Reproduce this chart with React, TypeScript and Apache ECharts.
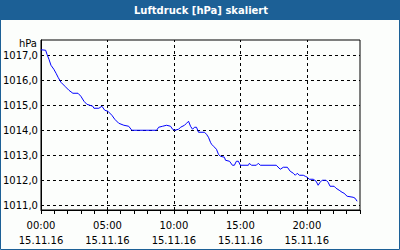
import React, { useEffect, useRef } from "react";
import * as echarts from "echarts";

const titleText = "Luftdruck [hPa] skaliert";
const unitText = "hPa";
const dateText = "15.11.16";

// minutes since 00:00
const times = [
  0, 21, 27, 36, 45, 58, 68, 77, 90, 108, 126, 144, 167, 180, 194, 207, 234, 239, 261, 275,
  288, 302, 320, 333, 351, 374, 396, 410, 522, 531, 549, 567, 585, 594, 603, 621, 630, 648,
  657, 666, 675, 684, 693, 702, 711, 738, 747, 756, 765, 770, 779, 792, 801, 810, 828, 833,
  851, 864, 873, 882, 891, 900, 936, 941, 950, 972, 981, 990, 1062, 1080, 1094, 1112, 1125,
  1139, 1148, 1157, 1166, 1184, 1193, 1202, 1211, 1229, 1242, 1251, 1260, 1269, 1287, 1296,
  1305, 1323, 1332, 1346, 1359, 1368, 1382, 1409, 1418, 1427,
];
const pressure = [
  1017.22, 1017.2, 1017.04, 1016.84, 1016.6, 1016.44, 1016.28, 1016.12, 1015.92, 1015.76,
  1015.6, 1015.48, 1015.48, 1015.36, 1015.16, 1015.04, 1014.96, 1014.88, 1014.88, 1014.96,
  1014.8, 1014.76, 1014.6, 1014.44, 1014.28, 1014.2, 1014.16, 1014.0, 1014.0, 1014.12,
  1014.16, 1014.2, 1014.16, 1014.04, 1014.0, 1014.04, 1014.12, 1014.2, 1014.28, 1014.36,
  1014.16, 1014.04, 1014.12, 1014.12, 1013.92, 1013.92, 1013.84, 1013.72, 1013.52, 1013.44,
  1013.36, 1013.24, 1013.04, 1012.96, 1012.92, 1012.8, 1012.76, 1012.6, 1012.6, 1012.76,
  1012.76, 1012.6, 1012.6, 1012.68, 1012.6, 1012.6, 1012.68, 1012.6, 1012.6, 1012.44,
  1012.52, 1012.52, 1012.36, 1012.28, 1012.2, 1012.28, 1012.2, 1012.2, 1012.16, 1012.12,
  1012.04, 1012.04, 1011.96, 1011.8, 1011.92, 1012.0, 1012.0, 1011.92, 1011.76, 1011.76,
  1011.68, 1011.6, 1011.52, 1011.48, 1011.36, 1011.32, 1011.28, 1011.16,
];

const xMajorTicks = [0, 300, 600, 900, 1200];
const xMinorTicks = [
  0, 60, 120, 180, 240, 300, 360, 420, 480, 540, 600, 660, 720, 780, 840, 900, 960, 1020,
  1080, 1140, 1200, 1260, 1320, 1380, 1440,
];
const yTicks = [1011, 1012, 1013, 1014, 1015, 1016, 1017];

const FONT = "DejaVu Sans";
const BLUE = "#1c6096";

function fmtTime(m: number) {
  const h = Math.floor(m / 60);
  const mm = m % 60;
  return String(h).padStart(2, "0") + ":" + String(mm).padStart(2, "0");
}

export default function App() {
  const ref = useRef<HTMLDivElement>(null);
  useEffect(() => {
    if (!ref.current) return;
    const chart = echarts.init(ref.current, undefined, { renderer: "svg" });
    const grid = { color: "#000", type: [3, 3] as any, width: 1 };
    chart.setOption({
      animation: false,
      backgroundColor: "#fcfefc",
      grid: {
        left: 40,
        right: 40,
        top: 40,
        bottom: 40,
        show: true,
        borderColor: "#000",
        borderWidth: 1,
        backgroundColor: "transparent",
      },
      graphic: [
        {
          type: "rect",
          shape: { x: 0, y: 0, width: 400, height: 20 },
          style: { fill: BLUE },
          z: 10,
        },
        {
          type: "rect",
          shape: { x: 0.5, y: 0.5, width: 399, height: 249 },
          style: { fill: "none", stroke: BLUE, lineWidth: 1 },
          z: 10,
        },
        {
          type: "text",
          x: 201,
          y: 10,
          style: {
            text: titleText,
            fill: "#fff",
            font: `bold 10px "${FONT}"`,
            textAlign: "center",
            textVerticalAlign: "middle",
          },
          z: 11,
        },
        {
          type: "text",
          x: 37,
          y: 43,
          style: {
            text: unitText,
            fill: "#000",
            font: `10px "${FONT}"`,
            textAlign: "right",
            textVerticalAlign: "middle",
          },
          z: 11,
        },
      ],
      xAxis: {
        type: "value",
        min: 0,
        max: 1440,
        axisLine: { show: true, lineStyle: { color: "#000", width: 1 } },
        axisTick: {
          show: true,
          length: 4,
          customValues: xMinorTicks,
          lineStyle: { color: "#000" },
        },
        splitLine: { show: false },
        axisLabel: {
          customValues: xMajorTicks,
          formatter: (v: number) => fmtTime(v) + "\n" + dateText,
          color: "#000",
          fontFamily: FONT,
          fontSize: 10,
          lineHeight: 15,
          margin: 8,
        },
      },
      yAxis: {
        type: "value",
        min: 1010.81,
        max: 1017.61,
        axisLine: { show: true, lineStyle: { color: "#000", width: 1 } },
        axisTick: { show: false },
        splitLine: { show: false },
        axisLabel: {
          customValues: yTicks,
          formatter: (v: number) => v.toFixed(1).replace(".", ","),
          color: "#000",
          fontFamily: FONT,
          fontSize: 10,
          margin: 3,
        },
      },
      series: [
        {
          type: "line",
          data: [],
          silent: true,
          z: 1,
          markLine: {
            silent: true,
            symbol: "none",
            label: { show: false },
            lineStyle: grid,
            emphasis: { disabled: true },
            data: [
              ...xMajorTicks.slice(1).map((v) => ({ xAxis: v })),
              ...yTicks.map((v) => ({ yAxis: v })),
            ],
          },
        },
        {
          type: "line",
          data: times.map((t, i) => [t, pressure[i]]),
          showSymbol: false,
          symbol: "none",
          z: 5,
          lineStyle: { color: "#0000ff", width: 1 },
          itemStyle: { color: "#0000ff" },
        },
      ],
    });
    return () => chart.dispose();
  }, []);
  return (
    <div
      ref={ref}
      style={{ position: "fixed", left: 0, top: 0, width: 400, height: 250 }}
    />
  );
}
